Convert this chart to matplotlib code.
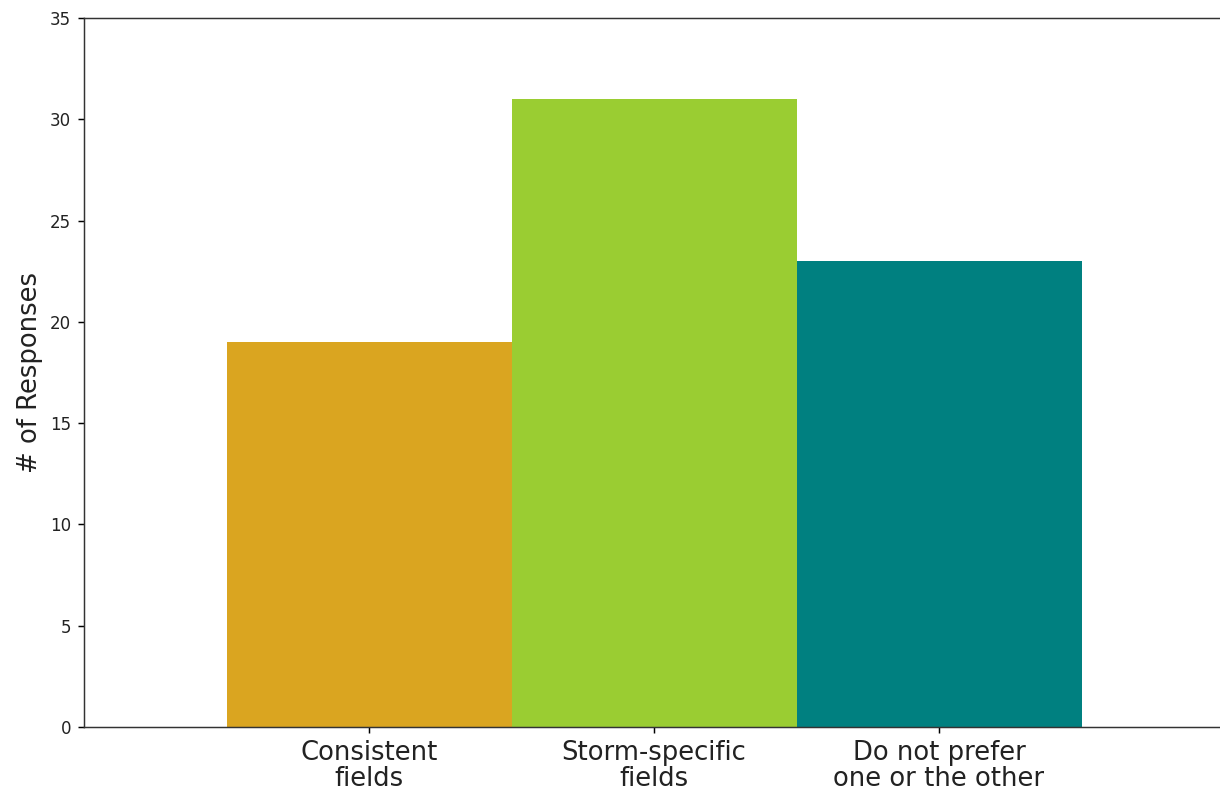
import matplotlib as mpl
mpl.use('Agg')
import matplotlib.pyplot as plt
import numpy as np

# survey answers
categories = ['Consistent\nfields', 'Storm-specific\nfields', 'Do not prefer\none or the other']
responses = [19, 31, 23]
colors = ['goldenrod', 'yellowgreen', 'teal']

W, H, dpi = 1220, 793, 100
s = 1.33  # original looks rendered at a higher dpi
fig = plt.figure(figsize=(W/dpi, H/dpi), dpi=dpi)
# axes run slightly past the right edge, like the cropped original
ax = fig.add_axes([84/W, 66/H, 1140/W, 709/H])

x = np.arange(len(categories))
ax.bar(x, responses, width=1.0, color=colors)

ax.set_xlim(-1, 3)
ax.set_ylim(0, 35)
ax.set_xticks(x)
ax.set_xticklabels(categories, fontsize=14*s, linespacing=1.0)
ax.tick_params(axis='y', labelsize=12)
ax.tick_params(length=3.5*s, width=0.8*s, pad=3.5*s, labelcolor='#222222')
ax.set_ylabel('# of Responses', fontsize=14*s, labelpad=4*s, color='#222222')
for sp in ax.spines.values():
    sp.set_linewidth(0.8*s)
    sp.set_color('#333333')
ax.spines['right'].set_visible(False)

fig.savefig('out.png', dpi=dpi)
